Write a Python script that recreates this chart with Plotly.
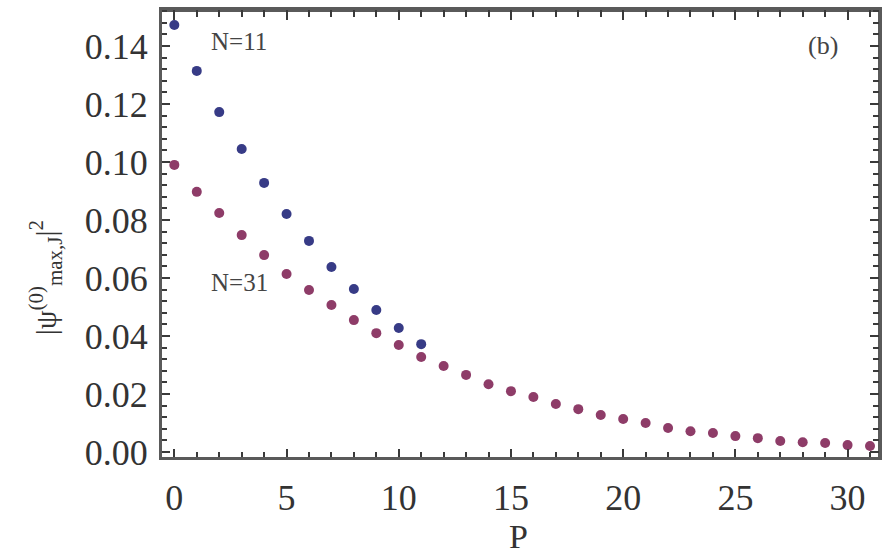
import plotly.graph_objects as go

# Occupation |psi|^2 of the maximal state versus site index P
p_n11 = list(range(0, 12))
w_n11 = [0.1472, 0.1314, 0.1172, 0.1045, 0.0928, 0.0821, 0.0728, 0.0638,
         0.0562, 0.0490, 0.0428, 0.0372]

p_n31 = list(range(0, 32))
w_n31 = [0.0990, 0.0897, 0.0824, 0.0748, 0.0679, 0.0614, 0.0559, 0.0507,
         0.0455, 0.0410, 0.0369, 0.0328, 0.0297, 0.0266, 0.0234, 0.0210,
         0.0190, 0.0166, 0.0148, 0.0128, 0.0114, 0.0100, 0.0083, 0.0072,
         0.0066, 0.0055, 0.0048, 0.0038, 0.0034, 0.0031, 0.0024, 0.0021]

x_ticks = [0, 5, 10, 15, 20, 25, 30]
y_ticks = [0.00, 0.02, 0.04, 0.06, 0.08, 0.10, 0.12, 0.14]
y_tick_text = ["0.00", "0.02", "0.04", "0.06", "0.08", "0.10", "0.12", "0.14"]

x_range = [-0.55, 31.4]
y_range = [-0.0017, 0.1524]

navy = "#373b86"
mauve = "#8e3c68"
frame = "#3a3a3a"
serif = "Liberation Serif, Times New Roman, serif"

fig = go.Figure()
# transparent copy on the top/right frame axes so their ticks are drawn
fig.add_trace(go.Scatter(x=p_n31, y=w_n31, xaxis="x2", yaxis="y2",
                         mode="markers", marker=dict(opacity=0),
                         showlegend=False, hoverinfo="skip"))
fig.add_trace(go.Scatter(x=p_n31, y=w_n31, mode="markers", name="N=31",
                         marker=dict(color=mauve, size=10, line=dict(width=0))))
fig.add_trace(go.Scatter(x=p_n11, y=w_n11, mode="markers", name="N=11",
                         marker=dict(color=navy, size=10, line=dict(width=0))))

axis_common = dict(
    showline=True, linecolor="#5a5a5a", linewidth=3,
    ticks="inside", ticklen=8, tickwidth=2, tickcolor=frame,
    showgrid=False, zeroline=False, layer="above traces",
    tickfont=dict(family=serif, size=36, color="#333333"),
)
x_minor = dict(dtick=1, tick0=0, ticks="inside", ticklen=5,
               tickcolor=frame, tickwidth=1.5, showgrid=False)
y_minor = dict(dtick=0.004, tick0=0, ticks="inside", ticklen=5,
               tickcolor=frame, tickwidth=1.5, showgrid=False)

fig.update_layout(
    xaxis=dict(range=x_range, tickvals=x_ticks, minor=x_minor,
               mirror="allticks", ticklabelstandoff=7, **axis_common),
    yaxis=dict(range=y_range, tickvals=y_ticks, ticktext=y_tick_text,
               mirror="allticks", minor=y_minor, ticklabelstandoff=4,
               **axis_common),
    xaxis2=dict(range=x_range, tickvals=x_ticks, minor=x_minor,
                overlaying="x", side="top", anchor="free", position=1,
                showticklabels=False, **axis_common),
    yaxis2=dict(range=y_range, tickvals=y_ticks, minor=y_minor,
                overlaying="y", side="right", anchor="free", position=1,
                showticklabels=False, **axis_common),
)

fig.add_annotation(x=2.9, y=0.1414, text="N=11", showarrow=False,
                   font=dict(family=serif, size=25, color="#444444"))
fig.add_annotation(x=2.9, y=0.0583, text="N=31", showarrow=False,
                   font=dict(family=serif, size=25, color="#444444"))
fig.add_annotation(x=28.9, y=0.1400, text="(b)", showarrow=False,
                   font=dict(family=serif, size=26, color="#444444"))

fig.add_annotation(xref="paper", yref="paper", x=0.497, y=-0.178,
                   xanchor="center", yanchor="middle",
                   text="P", showarrow=False,
                   font=dict(family=serif, size=34, color="#333333"))
fig.add_annotation(xref="paper", yref="paper", x=-0.163, y=0.40,
                   xanchor="center", yanchor="middle",
                   text="|ψ<sup>(0)</sup><sub>max,J</sub>|<sup>2</sup>",
                   textangle=-90, showarrow=False,
                   font=dict(family=serif, size=30, color="#333333"))

fig.update_layout(
    width=887, height=556,
    margin=dict(l=162, r=5, t=10, b=99),
    paper_bgcolor="white", plot_bgcolor="white",
    showlegend=False,
)

fig.write_html("out.html")
